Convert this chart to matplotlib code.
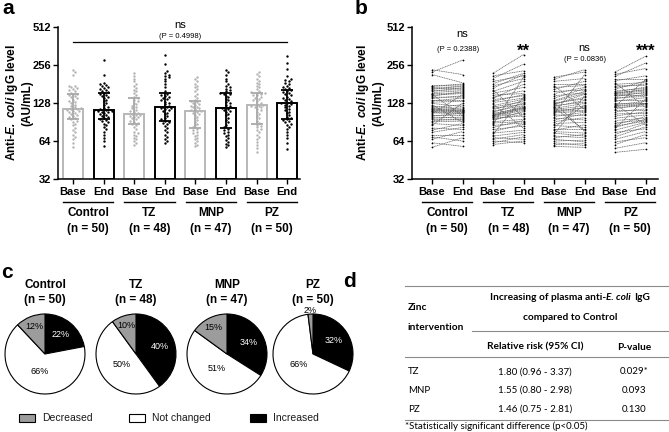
import numpy as np
import matplotlib
matplotlib.use("Agg")
import matplotlib.pyplot as plt
import matplotlib.transforms as mtrans
from matplotlib.patches import Rectangle
from matplotlib.lines import Line2D

plt.rcParams['font.family'] = ['Liberation Sans', 'DejaVu Sans']
plt.rcParams['mathtext.fontset'] = 'custom'
plt.rcParams['mathtext.rm'] = 'Liberation Sans:bold'
plt.rcParams['mathtext.it'] = 'Liberation Sans:italic'
plt.rcParams['mathtext.bfit'] = 'Liberation Sans:italic:bold'

# ---- data (AU/mL), paired baseline / endline per child ----
groups = ['Control', 'TZ', 'MNP', 'PZ']
n_sizes = [50, 48, 47, 50]

control_base = [57, 62, 66, 69, 72, 75, 78, 81, 85, 88, 91, 93, 95, 97, 99, 101, 103,
                105, 107, 108, 110, 111, 112, 114, 115, 116, 118, 121, 124, 127, 130,
                133, 136, 139, 142, 145, 148, 150, 152, 155, 158, 161, 164, 167, 170,
                173, 176, 215, 225, 235]
control_end = [68, 58, 76, 64, 72, 82, 88, 79, 128, 85, 92, 95, 94, 99, 97, 106, 103,
               149, 105, 108, 111, 109, 113, 110, 112, 117, 124, 114, 90, 120, 132,
               140, 136, 146, 143, 157, 152, 101, 154, 160, 169, 163, 175, 166, 172,
               181, 178, 185, 280, 215]

tz_base = [60, 62, 64, 66, 68, 70, 72, 74, 76, 79, 82, 85, 87, 89, 91, 93, 95, 97, 99,
           100, 101, 102, 103, 104, 106, 108, 110, 113, 116, 119, 122, 125, 129, 132,
           136, 139, 143, 148, 153, 158, 163, 168, 175, 182, 190, 200, 210, 220]
tz_end = [64, 69, 62, 72, 66, 75, 143, 78, 87, 84, 93, 89, 205, 91, 95, 110, 104, 101,
          107, 112, 116, 118, 114, 120, 117, 128, 122, 134, 125, 131, 137, 81, 140, 149,
          146, 180, 160, 152, 170, 190, 98, 215, 200, 220, 210, 260, 230, 310]

mnp_base = [58, 60, 62, 64, 66, 68, 70, 72, 74, 76, 78, 80, 82, 85, 88, 91, 94, 97, 100,
            103, 105, 107, 109, 110, 112, 114, 116, 118, 120, 122, 124, 126, 128, 130,
            132, 134, 140, 146, 152, 158, 164, 170, 176, 182, 190, 198, 205]
mnp_end = [57, 61, 59, 65, 63, 72, 68, 146, 70, 74, 86, 80, 124, 82, 90, 98, 105, 94,
           108, 102, 215, 110, 118, 112, 116, 121, 127, 78, 134, 130, 150, 142, 138, 76,
           152, 158, 166, 154, 170, 162, 190, 176, 114, 182, 200, 235, 225]

pz_base = [52, 56, 60, 63, 66, 69, 72, 75, 78, 80, 82, 84, 86, 89, 93, 97, 101, 105, 109,
           112, 115, 118, 120, 121, 122, 124, 126, 129, 132, 135, 138, 141, 144, 147, 149,
           151, 153, 154, 156, 160, 165, 170, 175, 180, 186, 192, 200, 208, 216, 225]
pz_end = [55, 62, 72, 68, 76, 83, 88, 80, 90, 138, 95, 92, 100, 94, 97, 103, 109, 106,
          115, 112, 126, 121, 196, 124, 127, 132, 86, 129, 141, 135, 150, 144, 156, 147,
          153, 159, 164, 162, 171, 167, 191, 181, 176, 186, 118, 210, 200, 265, 240, 300]

base_sets = [control_base, tz_base, mnp_base, pz_base]
end_sets = [control_end, tz_end, mnp_end, pz_end]
tick_names = ['Base', 'End']

# pie chart (% of children)
increased = [22, 40, 34, 32]
not_changed = [66, 50, 51, 66]
decreased = [12, 10, 15, 2]

# table d
table_groups = ['TZ', 'MNP', 'PZ']
rel_risk = ['1.80 (0.96 - 3.37)', '1.55 (0.80 - 2.98)', '1.46 (0.75 - 2.81)']
p_values = ['0.029*', '0.093', '0.130']

W, H = 669, 432
fig = plt.figure(figsize=(W / 100, H / 100), dpi=100)


def rect(x0, y0, x1, y1):
    return [x0 / W, 1 - y1 / H, (x1 - x0) / W, (y1 - y0) / H]


def fy(y):
    return 1 - y / H


GRAY_PT = '#b4b4b4'
GRAY_BAR = '#b8b8b8'
YLABEL = 'Anti-$\\mathbfit{E.\\ coli}$ IgG level\n(AU/mL)'


def swarm(vals, step, oct_px=37.5, d=2.5):
    # simple beeswarm: push points sideways when they would overlap
    vals = np.asarray(vals, float)
    offs = np.zeros(len(vals))
    placed = []
    cands = [0.0]
    for j in range(1, 6):
        cands += [j * 2.0, -j * 2.0]
    for i in np.argsort(vals):
        y = np.log2(vals[i]) * oct_px
        best = cands[-1]
        for c in cands:
            if all((c - px) ** 2 + (y - py) ** 2 >= d * d for px, py in placed):
                best = c
                break
        placed.append((best, y))
        offs[i] = best / step
    return offs


def style_axis(ax):
    ax.set_yscale('log', base=2)
    ax.set_ylim(32, 512)
    ax.set_yticks([32, 64, 128, 256, 512])
    ax.set_yticklabels(['32', '64', '128', '256', '512'], fontsize=8, fontweight='bold')
    ax.yaxis.set_minor_locator(plt.NullLocator())
    ax.set_xticks(np.arange(8))
    ax.set_xticklabels(tick_names * 4, fontsize=8, fontweight='bold')
    ax.tick_params(axis='both', length=3.5, width=1.0, pad=1.5)
    ax.tick_params(axis='x', pad=2.5)
    for s in ['top', 'right']:
        ax.spines[s].set_visible(False)
    for s in ['left', 'bottom']:
        ax.spines[s].set_linewidth(1.1)
    ax.set_ylabel(YLABEL, fontsize=8.5, fontweight='bold', linespacing=1.1)


def group_labels(ax):
    tr = mtrans.blended_transform_factory(ax.transData, fig.transFigure)
    for g, name in enumerate(groups):
        c = 2 * g + 0.5
        fig.add_artist(Line2D([c - 0.82, c + 0.82], [fy(202), fy(202)], transform=tr,
                              color='black', lw=1.0))
        fig.text(c, fy(213), name, transform=tr, ha='center', va='center',
                 fontsize=8.5, fontweight='bold')
        fig.text(c, fy(229), f'(n = {n_sizes[g]})', transform=tr, ha='center',
                 va='center', fontsize=8.5, fontweight='bold')


# ---------------- panel a ----------------
step_a = 30.6
axA = fig.add_axes(rect(58, 27, 300, 179))
axA.set_xlim(-15 / step_a, (300 - 73) / step_a)
for g in range(4):
    for k, vals in enumerate([base_sets[g], end_sets[g]]):
        p = 2 * g + k
        edge = GRAY_BAR if k == 0 else 'black'
        ptc = GRAY_PT if k == 0 else 'black'
        ebc = '#a9a9a9' if k == 0 else 'black'
        med, q1, q3 = np.percentile(vals, [50, 25, 75])
        axA.bar(p, med - 32, bottom=32, width=0.65, facecolor='white', edgecolor=edge,
                lw=1.4, zorder=2)
        axA.scatter(p + swarm(vals, step_a), vals, s=3.0, color=ptc, lw=0, zorder=3)
        axA.errorbar(p, med, yerr=[[med - q1], [q3 - med]], fmt='none', ecolor=ebc,
                     elinewidth=1.3, capsize=4.5, capthick=1.3, zorder=4)
style_axis(axA)
axA.yaxis.set_label_coords(-0.103, 0.5)
axA.plot([0, 7], [386, 386], color='black', lw=0.9, clip_on=False)
axA.text(3.5, 528, 'ns', ha='center', va='center', fontsize=8, clip_on=False)
axA.text(3.5, 431, '(P = 0.4998)', ha='center', va='center', fontsize=5.5, clip_on=False)
group_labels(axA)

# ---------------- panel b ----------------
step_b = 30.5
axB = fig.add_axes(rect(412, 27, 658, 179))
axB.set_xlim(-20 / step_b, (658 - 432) / step_b)
for g in range(4):
    b = base_sets[g]
    e = end_sets[g]
    for vb, ve in zip(b, e):
        axB.plot([2 * g, 2 * g + 1], [vb, ve], color='#606060', lw=0.55,
                 ls=(0, (1.5, 0.8)), zorder=2)
    axB.scatter([2 * g] * len(b), b, s=1.6, color='black', lw=0, zorder=3)
    axB.scatter([2 * g + 1] * len(e), e, s=1.6, color='black', lw=0, zorder=3)
style_axis(axB)
axB.yaxis.set_label_coords(-0.114, 0.5)
axB.text(1, 447, 'ns', ha='center', va='center', fontsize=8, clip_on=False)
axB.text(0.85, 339, '(P = 0.2388)', ha='center', va='center', fontsize=5.5)
axB.text(3, 330, '**', ha='center', va='center', fontsize=12, fontweight='bold')
axB.text(5, 352, 'ns', ha='center', va='center', fontsize=8)
axB.text(5, 282, '(P = 0.0836)', ha='center', va='center', fontsize=5.5)
axB.text(7, 330, '***', ha='center', va='center', fontsize=12, fontweight='bold')
group_labels(axB)

# ---------------- panel c ----------------
pie_cols = ['black', 'white', '#9c9c9c']
pie_x = [45, 136, 227, 313]
for g in range(4):
    cx, cy, r = pie_x[g], 354, 40
    axP = fig.add_axes(rect(cx - r * 1.1, cy - r * 1.1, cx + r * 1.1, cy + r * 1.1))
    fr = [increased[g], not_changed[g], decreased[g]]
    axP.pie(fr, colors=pie_cols, startangle=90, counterclock=False,
            wedgeprops=dict(edgecolor='black', linewidth=0.8))
    axP.set_xlim(-1.1, 1.1)
    axP.set_ylim(-1.1, 1.1)
    axP.set_aspect('equal')
    cum = 0
    for k, v in enumerate(fr):
        ang = np.deg2rad(90 - (cum + v / 2) / 100 * 360)
        cum += v
        rad = [0.62, 0.45, 0.74][k]
        if v < 5:
            rad = 1.1
        axP.text(rad * np.cos(ang), rad * np.sin(ang), f'{v}%', ha='center', va='center',
                 fontsize=6.5, color='white' if k == 0 else 'black', clip_on=False)
    fig.text(cx / W, fy(285), groups[g], ha='center', va='center', fontsize=8.5,
             fontweight='bold')
    fig.text(cx / W, fy(300), f'(n = {n_sizes[g]})', ha='center', va='center',
             fontsize=8.5, fontweight='bold')

legend_items = [('Decreased', '#9c9c9c', 19), ('Not changed', 'white', 129),
                ('Increased', 'black', 250)]
for name, col, x0 in legend_items:
    fig.add_artist(Rectangle((x0 / W, fy(422)), 16 / W, 8 / H, transform=fig.transFigure,
                             facecolor=col, edgecolor='black', lw=0.8))
    fig.text((x0 + 23) / W, fy(418), name, ha='left', va='center', fontsize=7.5,
             color='#1a1a1a')

# ---------------- panel d (table) ----------------
TF = ['Lato', 'DejaVu Sans']
TS = 7.0
HS = 7.3
for y, x0 in [(286, 405), (331, 472), (357, 405), (420, 405)]:
    fig.add_artist(Line2D([x0 / W, 668 / W], [fy(y), fy(y)], transform=fig.transFigure,
                          color='#8a8a8a', lw=0.8))

renderer = fig.canvas.get_renderer()


def measure(s, style):
    t = fig.text(0, 0, s, fontsize=HS, family=TF, fontweight='bold', fontstyle=style)
    w = t.get_window_extent(renderer).width
    t.remove()
    return w


# header line with italic "E. coli", centred at x = 570 px
head = [('Increasing of plasma anti-', 'normal'), ('E. coli', 'italic'), ('IgG', 'normal')]
space = measure('a a', 'normal') - measure('aa', 'normal')
widths = [measure(s, st) for s, st in head]
gaps = [0, 0, space]
x = 570 - (sum(widths) + space) / 2
for (s, st), w, gap in zip(head, widths, gaps):
    x += gap
    fig.text(x / W, fy(297), s, fontsize=HS, family=TF, fontweight='bold', fontstyle=st,
             ha='left', va='center')
    x += w

fig.text(570 / W, fy(317), 'compared to Control', ha='center', va='center', fontsize=HS,
         family=TF, fontweight='bold')
fig.text(408 / W, fy(308), 'Zinc', ha='left', va='center', fontsize=HS, family=TF,
         fontweight='bold')
fig.text(408 / W, fy(328), 'intervention', ha='left', va='center', fontsize=HS, family=TF,
         fontweight='bold')
fig.text(535 / W, fy(347), 'Relative risk (95% CI)', ha='center', va='center',
         fontsize=HS, family=TF, fontweight='bold')
fig.text(634 / W, fy(347), 'P-value', ha='center', va='center', fontsize=HS, family=TF,
         fontweight='bold')
for i, name in enumerate(table_groups):
    y = fy(372 + 18.5 * i)
    fig.text(408 / W, y, name, ha='left', va='center', fontsize=TS, family=TF)
    fig.text(535 / W, y, rel_risk[i], ha='center', va='center', fontsize=TS, family=TF)
    fig.text(634 / W, y, p_values[i], ha='center', va='center', fontsize=TS, family=TF)
fig.text(405 / W, fy(426), '*Statistically significant difference (p<0.05)', ha='left',
         va='center', fontsize=TS, family=TF)

# panel letters
for letter, x, y in [('a', 2, 14), ('b', 355, 14), ('c', 1, 278), ('d', 343, 287)]:
    fig.text(x / W, fy(y), letter, ha='left', va='baseline', fontsize=15, fontweight='bold')

fig.savefig('out.png', dpi=100)
